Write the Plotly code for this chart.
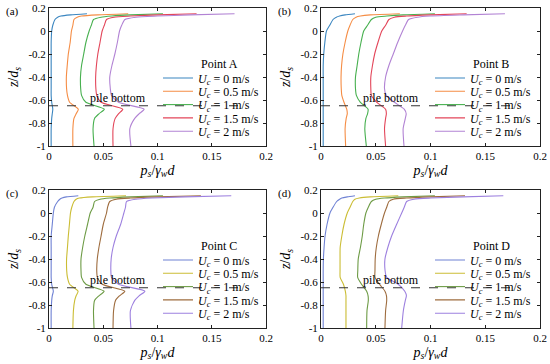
import plotly.graph_objects as go

# ---------------- data ----------------
z = [0.15, 0.14, 0.13, 0.12, 0.1, 0.05, 0, -0.1, -0.2, -0.3, -0.4, -0.5, -0.56, -0.62, -0.68, -0.72, -0.76, -0.85, -1]

speeds = ["0", "0.5", "1", "1.5", "2"]

A0 = [0.035, 0.02, 0.011, 0.008, 0.0055, 0.0035, 0.0025, 0.002, 0.002, 0.002, 0.002, 0.002, 0.002, 0.0025, 0.0035, 0.003, 0.0025, 0.002, 0.002]
A05 = [0.073, 0.045, 0.03, 0.026, 0.023, 0.022, 0.0207, 0.0195, 0.0178, 0.0168, 0.016, 0.0162, 0.017, 0.019, 0.027, 0.025, 0.023, 0.022, 0.022]
A1 = [0.105, 0.075, 0.058, 0.048, 0.041, 0.039, 0.037, 0.034, 0.032, 0.030, 0.029, 0.0292, 0.030, 0.034, 0.051, 0.046, 0.042, 0.0406, 0.0415]
A15 = [0.136, 0.1, 0.075, 0.06, 0.053, 0.051, 0.049, 0.047, 0.045, 0.0437, 0.043, 0.0432, 0.044, 0.048, 0.068, 0.064, 0.061, 0.059, 0.059]
A2 = [0.171, 0.13, 0.1, 0.08, 0.07, 0.067, 0.065, 0.063, 0.0607, 0.058, 0.056, 0.0565, 0.0576, 0.064, 0.0877, 0.083, 0.079, 0.0745, 0.0755]

B0 = [0.031, 0.022, 0.017, 0.014, 0.011, 0.008, 0.005, 0.0035, 0.0025, 0.002, 0.002, 0.002, 0.002, 0.002, 0.002, 0.002, 0.002, 0.002, 0.002]
B05 = [0.072, 0.045, 0.036, 0.032, 0.029, 0.0265, 0.0245, 0.022, 0.020, 0.0188, 0.0183, 0.0185, 0.019, 0.021, 0.0235, 0.024, 0.023, 0.022, 0.0225]
B1 = [0.104, 0.075, 0.06, 0.05, 0.046, 0.0425, 0.039, 0.0365, 0.0345, 0.033, 0.0315, 0.0315, 0.0323, 0.036, 0.043, 0.0425, 0.041, 0.040, 0.0414]
B15 = [0.133, 0.1, 0.078, 0.067, 0.062, 0.059, 0.0555, 0.052, 0.049, 0.047, 0.0455, 0.0455, 0.046, 0.051, 0.059, 0.0597, 0.059, 0.058, 0.059]
B2 = [0.168, 0.13, 0.1, 0.088, 0.08, 0.077, 0.0745, 0.07, 0.066, 0.062, 0.059, 0.058, 0.0595, 0.067, 0.076, 0.0778, 0.077, 0.075, 0.0758]

C0 = [0.027, 0.016, 0.012, 0.010, 0.008, 0.005, 0.004, 0.003, 0.002, 0.002, 0.002, 0.002, 0.002, 0.0025, 0.004, 0.003, 0.0025, 0.002, 0.002]
C05 = [0.071, 0.040, 0.028, 0.025, 0.023, 0.021, 0.0198, 0.0188, 0.0178, 0.017, 0.0162, 0.0163, 0.017, 0.019, 0.0268, 0.025, 0.0237, 0.0225, 0.022]
C1 = [0.105, 0.075, 0.056, 0.047, 0.042, 0.0406, 0.038, 0.0355, 0.033, 0.031, 0.0295, 0.0295, 0.030, 0.034, 0.0508, 0.046, 0.042, 0.041, 0.0415]
C15 = [0.14, 0.1, 0.075, 0.062, 0.056, 0.054, 0.053, 0.050, 0.048, 0.046, 0.0445, 0.044, 0.0446, 0.049, 0.0699, 0.065, 0.0613, 0.0595, 0.059]
C2 = [0.168, 0.125, 0.095, 0.08, 0.0714, 0.0705, 0.069, 0.066, 0.062, 0.059, 0.0573, 0.057, 0.0576, 0.064, 0.0884, 0.083, 0.079, 0.075, 0.0755]

D0 = [0.031, 0.024, 0.019, 0.017, 0.0143, 0.011, 0.0082, 0.0055, 0.0037, 0.0028, 0.0022, 0.002, 0.002, 0.002, 0.002, 0.002, 0.002, 0.002, 0.002]
D05 = [0.0706, 0.045, 0.035, 0.031, 0.029, 0.0265, 0.024, 0.021, 0.019, 0.0175, 0.0174, 0.0174, 0.0175, 0.0205, 0.0222, 0.0228, 0.0228, 0.0228, 0.0228]
D1 = [0.104, 0.075, 0.058, 0.050, 0.046, 0.0432, 0.041, 0.039, 0.0377, 0.036, 0.034, 0.0336, 0.0335, 0.037, 0.0417, 0.043, 0.0432, 0.042, 0.0417]
D15 = [0.1315, 0.1, 0.078, 0.066, 0.062, 0.060, 0.058, 0.055, 0.0524, 0.0505, 0.0495, 0.0493, 0.0493, 0.0535, 0.0584, 0.0598, 0.06, 0.059, 0.0584]
D2 = [0.1665, 0.13, 0.1, 0.085, 0.0782, 0.076, 0.0737, 0.069, 0.0645, 0.061, 0.0584, 0.0585, 0.06, 0.0705, 0.0765, 0.078, 0.077, 0.0752, 0.0737]

pile_bottom_z = -0.65
pile_line_x = [0, 0.176]

panel_letters = ["(a)", "(b)", "(c)", "(d)"]
point_names = ["Point A", "Point B", "Point C", "Point D"]

x_ticks = [0, 0.05, 0.1, 0.15, 0.2]
x_ticktext = ["0", "0.05", "0.1", "0.15", "0.2"]
y_ticks = [-1, -0.8, -0.6, -0.4, -0.2, 0, 0.2]
y_ticktext = ["-1", "-0.8", "-0.6", "-0.4", "-0.2", "0", "0.2"]

# ---------------- styling ----------------
top_colors = ["#3b86c0", "#f58d45", "#47b04f", "#e3465a", "#b283d4"]
bot_colors = ["#6f82d4", "#cbbd34", "#6d9b45", "#9e6c3e", "#9d80df"]
FONT = "Liberation Serif"
W, H = 550, 364

panels = [
    dict(data=[A0, A05, A1, A15, A2], colors=top_colors, xd=[49 / W, 266 / W], yd=[1 - 146 / H, 1 - 8 / H]),
    dict(data=[B0, B05, B1, B15, B2], colors=top_colors, xd=[321 / W, 540 / W], yd=[1 - 146 / H, 1 - 8 / H]),
    dict(data=[C0, C05, C1, C15, C2], colors=bot_colors, xd=[49 / W, 266 / W], yd=[1 - 328 / H, 1 - 190 / H]),
    dict(data=[D0, D05, D1, D15, D2], colors=bot_colors, xd=[321 / W, 540 / W], yd=[1 - 328 / H, 1 - 190 / H]),
]

fig = go.Figure()
layout = dict(
    width=W, height=H,
    margin=dict(l=0, r=0, t=0, b=0, autoexpand=False),
    paper_bgcolor="white", plot_bgcolor="white",
    font=dict(family=FONT, size=11, color="black"),
    showlegend=True,
    shapes=[], annotations=[],
)

k = 0
for i, p in enumerate(panels):
    n = "" if i == 0 else str(i + 1)
    xa, ya = "x" + n, "y" + n
    left_px = p["xd"][0] * W
    top_px = (1 - p["yd"][1]) * H
    for j, (s, vals, col) in enumerate(zip(speeds, p["data"], p["colors"])):
        k += 1
        lg = "legend" if k == 1 else "legend" + str(k)
        fig.add_trace(go.Scatter(
            x=vals, y=z, mode="lines", xaxis=xa, yaxis=ya, legend=lg,
            line=dict(color=col, width=1.1, shape="spline", smoothing=0.6),
            name="<i>U<sub>c</sub></i> = " + s + " m/s",
        ))
        cy = top_px + 70 + j * 13.3
        layout[lg] = dict(
            x=(left_px + 109) / W, y=1 - cy / H, xanchor="left", yanchor="middle",
            bgcolor="rgba(0,0,0,0)", borderwidth=0,
            font=dict(family=FONT, size=12), itemwidth=30,
        )
    axis_common = dict(showgrid=False, zeroline=False, showline=True, linecolor="#222",
                       linewidth=1, mirror="allticks", ticks="inside", ticklen=3,
                       tickcolor="#222", tickfont=dict(family=FONT, size=11), automargin=False)
    layout["xaxis" + n] = dict(axis_common, domain=p["xd"], anchor=ya, range=[0, 0.2],
                               tickvals=x_ticks, ticktext=x_ticktext,
                               title=dict(text="<i>p<sub>s</sub></i>/<i>γ<sub>w</sub>d</i>",
                                          font=dict(size=14), standoff=3))
    layout["yaxis" + n] = dict(axis_common, domain=p["yd"], anchor=xa, range=[-1, 0.2],
                               tickvals=y_ticks, ticktext=y_ticktext,
                               title=dict(text="<i>z</i>/<i>d<sub>s</sub></i>",
                                          font=dict(size=14), standoff=6))
    layout["annotations"].append(dict(text=point_names[i], xref="paper", yref="paper",
                                      x=(left_px + 170) / W, y=1 - (top_px + 56) / H,
                                      xanchor="center", yanchor="middle", showarrow=False,
                                      font=dict(family=FONT, size=12)))
    layout["shapes"].append(dict(type="line", xref=xa, yref=ya, x0=pile_line_x[0], x1=pile_line_x[1],
                                 y0=pile_bottom_z, y1=pile_bottom_z,
                                 line=dict(color="#333", width=1, dash="dash"), layer="above"))
    layout["annotations"].append(dict(text="pile bottom", xref=xa, yref=ya, x=0.064, y=pile_bottom_z,
                                      yanchor="bottom", showarrow=False, yshift=-1,
                                      font=dict(family=FONT, size=12)))
    layout["annotations"].append(dict(text=panel_letters[i], xref="paper", yref="paper",
                                      x=(left_px - 45) / W, y=1 - (top_px + 3) / H,
                                      xanchor="left", yanchor="middle", showarrow=False,
                                      font=dict(family=FONT, size=11)))

fig.update_layout(**layout)
fig.write_html("out.html", config={"displayModeBar": False},
               post_script="document.body.style.margin='0';document.body.style.overflow='hidden';")
